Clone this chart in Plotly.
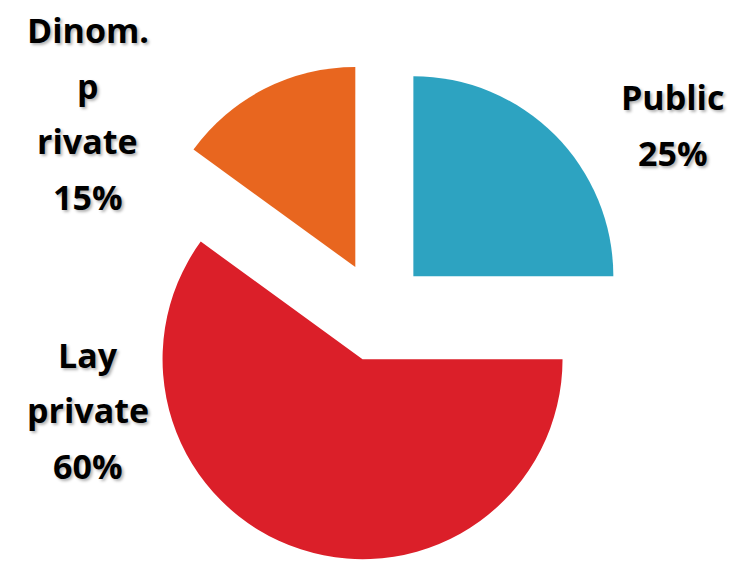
import plotly.graph_objects as go

labels = ["Public", "Lay private", "Dinom. private"]
values = [25, 60, 15]
colors = ["#2DA3C1", "#DB1F29", "#E8661F"]
pulls = [0.25, 0.25, 0.25]
# label text lines as displayed (wrapped like the original)
label_lines = [["Public", "25%"], ["Lay", "private", "60%"], ["Dinom.", "p", "rivate", "15%"]]
label_x = [0.92, 0.12, 0.12]          # paper x of text centre
label_y_px = [[97, 153], [355, 410, 466], [30, 86, 141, 197]]  # pixel y centres

W, H = 731, 564

fig = go.Figure(go.Pie(
    labels=labels,
    values=values,
    marker=dict(colors=colors, line=dict(width=0)),
    pull=pulls,
    sort=False,
    direction="clockwise",
    rotation=0,
    textinfo="none",
    hoverinfo="label+percent",
    showlegend=False,
    domain=dict(x=[128 / W, 628 / W], y=[1 - 561.6 / H, 1 - 61.6 / H]),
))

annotations = []
for lines, lx, ys in zip(label_lines, label_x, label_y_px):
    for txt, yp in zip(lines, ys):
        annotations.append(dict(
            text=txt, x=lx, y=1 - yp / H, xref="paper", yref="paper",
            showarrow=False, xanchor="center", yanchor="middle",
            font=dict(family="Open Sans", size=34, color="#000000", weight="bold",
                      shadow="2px 2px 3px rgba(0,0,0,0.3)"),
        ))

fig.update_layout(
    width=W, height=H,
    margin=dict(l=0, r=0, t=0, b=0),
    paper_bgcolor="white",
    plot_bgcolor="white",
    annotations=annotations,
)

fig.write_html("out.html")
